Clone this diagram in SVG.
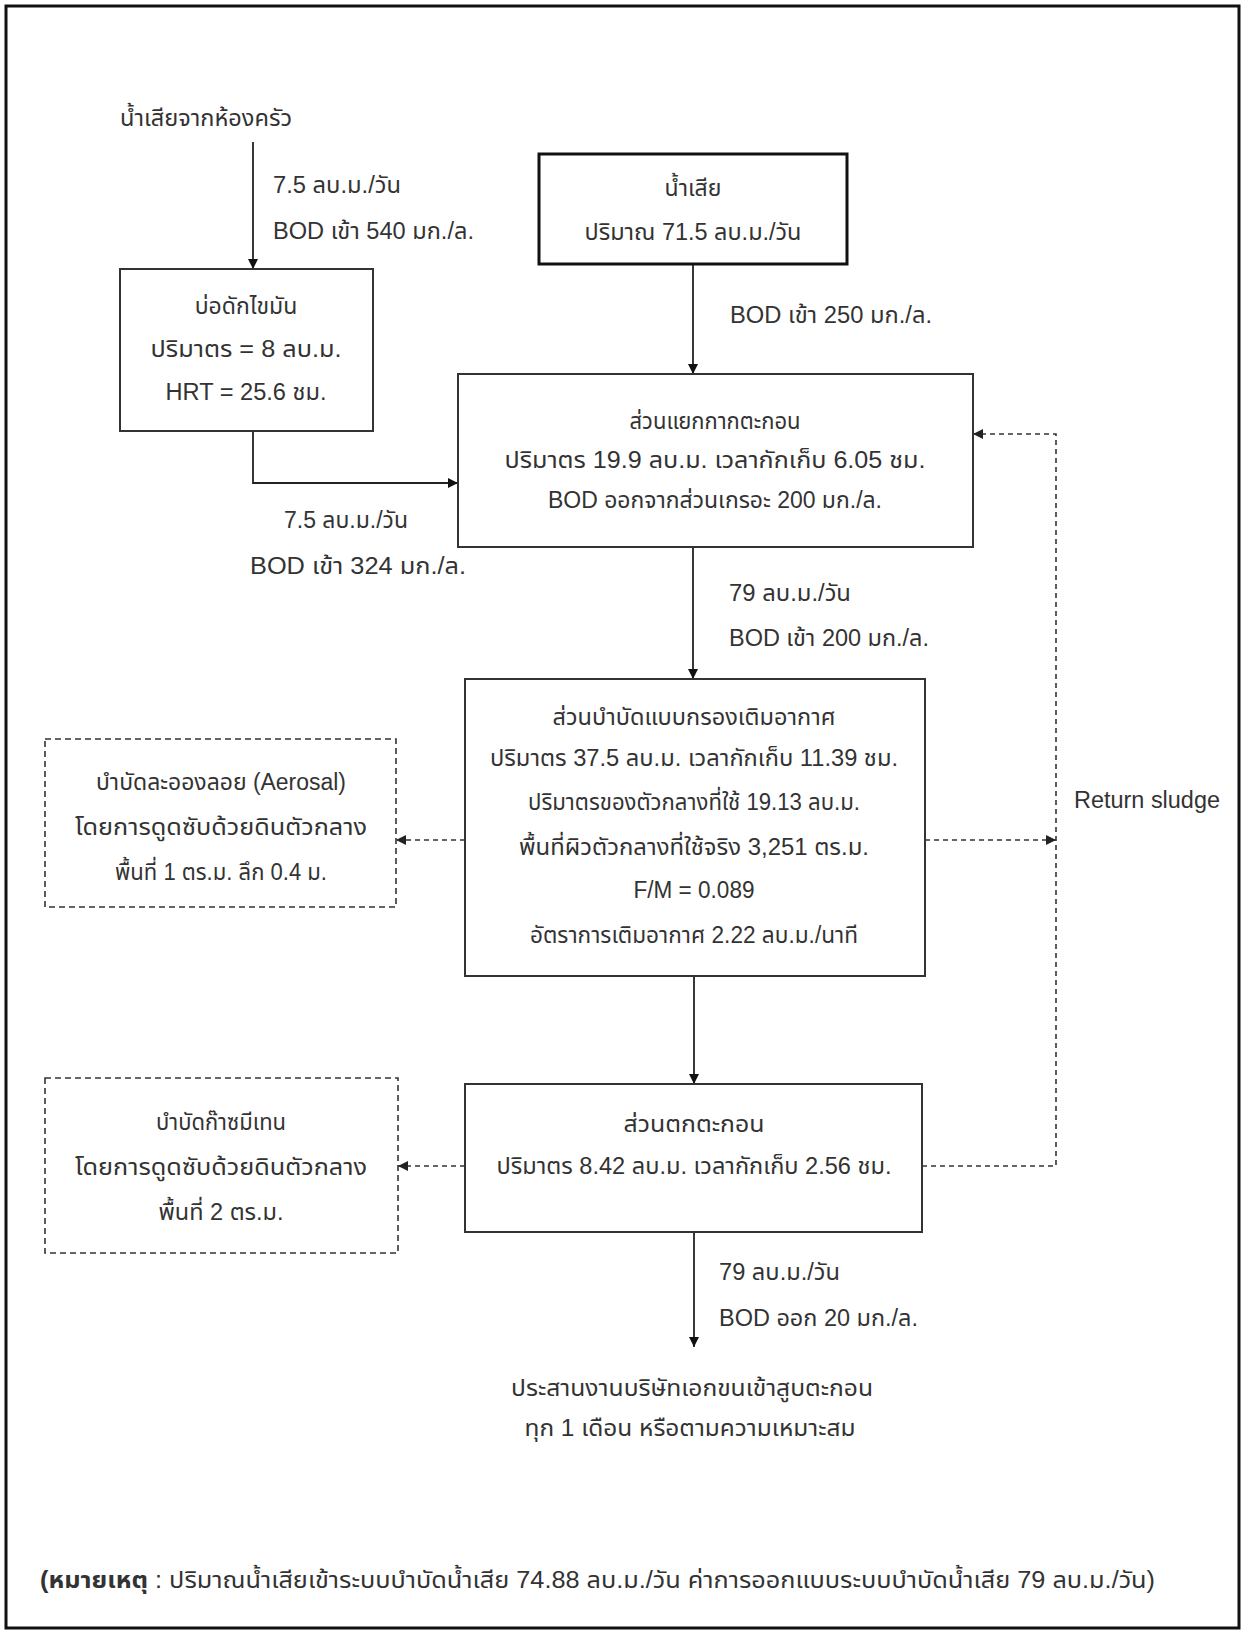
<svg xmlns="http://www.w3.org/2000/svg" width="1244" height="1633" viewBox="0 0 1244 1633">
<defs>
<marker id="ah" viewBox="0 0 10 10" refX="10" refY="5" markerWidth="10" markerHeight="10" markerUnits="userSpaceOnUse" orient="auto"><path d="M0,0 L10,5 L0,10 z" fill="#111"/></marker>
<marker id="ahd" viewBox="0 0 10 10" refX="10" refY="5" markerWidth="10" markerHeight="10" markerUnits="userSpaceOnUse" orient="auto"><path d="M0,0 L10,5 L0,10 z" fill="#222"/></marker>
</defs>
<style>
text{font-family:"Liberation Sans","Noto Sans Thai","Noto Sans",sans-serif;font-size:23px;fill:#333}
.c{text-anchor:middle}
.box{fill:#fff;stroke:#333;stroke-width:2}
.boxb{fill:#fff;stroke:#111;stroke-width:3}
.dbox{fill:#fff;stroke:#333;stroke-width:1.6;stroke-dasharray:6 4}
.ln{fill:none;stroke:#222;stroke-width:1.8}
.dl{fill:none;stroke:#333;stroke-width:1.6;stroke-dasharray:5 4}
</style>
<rect x="0" y="0" width="1244" height="1633" fill="#fff"/>
<rect x="6" y="6" width="1233" height="1622" fill="none" stroke="#111" stroke-width="3"/>

<g id="connectors">
<path class="ln" d="M253,142 V269" marker-end="url(#ah)"/>
<path class="ln" d="M693,264 V374" marker-end="url(#ah)"/>
<path class="ln" d="M253,431 V483 H458" marker-end="url(#ah)"/>
<path class="ln" d="M693,547 V679" marker-end="url(#ah)"/>
<path class="ln" d="M694,976 V1084" marker-end="url(#ah)"/>
<path class="ln" d="M694,1232 V1347" marker-end="url(#ah)"/>
<path class="dl" d="M465,840 H396" marker-end="url(#ahd)"/>
<path class="dl" d="M465,1166 H398" marker-end="url(#ahd)"/>
<path class="dl" d="M925,840 H1056" marker-end="url(#ahd)"/>
<path class="dl" d="M922,1166 H1056 V434 H973" marker-end="url(#ahd)"/>
</g>

<g id="label-kitchen"><text class="c" x="206" y="126" textLength="172" lengthAdjust="spacingAndGlyphs">น้ำเสียจากห้องครัว</text></g>
<g id="label-e1">
<text x="273" y="193" textLength="128" lengthAdjust="spacingAndGlyphs">7.5 ลบ.ม./วัน</text>
<text x="273" y="239" textLength="201" lengthAdjust="spacingAndGlyphs">BOD เข้า 540 มก./ล.</text>
</g>
<g id="node-wastewater">
<rect class="boxb" x="539" y="154" width="308" height="110"/>
<text class="c" x="693" y="196">น้ำเสีย</text>
<text class="c" x="693" y="240" textLength="217" lengthAdjust="spacingAndGlyphs">ปริมาณ 71.5 ลบ.ม./วัน</text>
</g>
<g id="label-e2"><text x="730" y="323" textLength="202" lengthAdjust="spacingAndGlyphs">BOD เข้า 250 มก./ล.</text></g>
<g id="node-grease">
<rect class="box" x="120" y="269" width="253" height="162"/>
<text class="c" x="246" y="314">บ่อดักไขมัน</text>
<text class="c" x="246" y="357" textLength="191" lengthAdjust="spacingAndGlyphs">ปริมาตร = 8 ลบ.ม.</text>
<text class="c" x="246" y="400" textLength="161" lengthAdjust="spacingAndGlyphs">HRT = 25.6 ชม.</text>
</g>
<g id="node-sep">
<rect class="box" x="458" y="374" width="515" height="173"/>
<text class="c" x="715" y="429" textLength="171" lengthAdjust="spacingAndGlyphs">ส่วนแยกกากตะกอน</text>
<text class="c" x="715" y="468" textLength="421" lengthAdjust="spacingAndGlyphs">ปริมาตร 19.9 ลบ.ม.  เวลากักเก็บ 6.05 ชม.</text>
<text class="c" x="715" y="508" textLength="334" lengthAdjust="spacingAndGlyphs">BOD ออกจากส่วนเกรอะ 200 มก./ล.</text>
</g>
<g id="label-e3">
<text x="284" y="528" textLength="124" lengthAdjust="spacingAndGlyphs">7.5 ลบ.ม./วัน</text>
<text x="250" y="574" textLength="216" lengthAdjust="spacingAndGlyphs">BOD เข้า 324 มก./ล.</text>
</g>
<g id="label-e4">
<text x="729" y="601" textLength="122" lengthAdjust="spacingAndGlyphs">79 ลบ.ม./วัน</text>
<text x="729" y="646" textLength="200" lengthAdjust="spacingAndGlyphs">BOD เข้า 200 มก./ล.</text>
</g>
<g id="node-aer">
<rect class="box" x="465" y="679" width="460" height="297"/>
<text class="c" x="694" y="725" textLength="283" lengthAdjust="spacingAndGlyphs">ส่วนบำบัดแบบกรองเติมอากาศ</text>
<text class="c" x="694" y="766" textLength="408" lengthAdjust="spacingAndGlyphs">ปริมาตร 37.5 ลบ.ม. เวลากักเก็บ 11.39 ชม.</text>
<text class="c" x="694" y="810" textLength="332" lengthAdjust="spacingAndGlyphs">ปริมาตรของตัวกลางที่ใช้ 19.13 ลบ.ม.</text>
<text class="c" x="694" y="855" textLength="350" lengthAdjust="spacingAndGlyphs">พื้นที่ผิวตัวกลางที่ใช้จริง 3,251 ตร.ม.</text>
<text class="c" x="694" y="898" textLength="121" lengthAdjust="spacingAndGlyphs">F/M = 0.089</text>
<text class="c" x="694" y="943" textLength="328" lengthAdjust="spacingAndGlyphs">อัตราการเติมอากาศ 2.22 ลบ.ม./นาที</text>
</g>
<g id="node-aerosol">
<rect class="dbox" x="45" y="739" width="351" height="168"/>
<text class="c" x="221" y="790" textLength="250" lengthAdjust="spacingAndGlyphs">บำบัดละอองลอย (Aerosal)</text>
<text class="c" x="221" y="835" textLength="292" lengthAdjust="spacingAndGlyphs">โดยการดูดซับด้วยดินตัวกลาง</text>
<text class="c" x="221" y="880" textLength="212" lengthAdjust="spacingAndGlyphs">พื้นที่ 1 ตร.ม. ลึก 0.4 ม.</text>
</g>
<g id="label-return"><text x="1074" y="808" textLength="146" lengthAdjust="spacingAndGlyphs">Return sludge</text></g>
<g id="node-settle">
<rect class="box" x="465" y="1084" width="457" height="148"/>
<text class="c" x="694" y="1132" textLength="141" lengthAdjust="spacingAndGlyphs">ส่วนตกตะกอน</text>
<text class="c" x="694" y="1174" textLength="395" lengthAdjust="spacingAndGlyphs">ปริมาตร 8.42 ลบ.ม. เวลากักเก็บ 2.56 ชม.</text>
</g>
<g id="node-methane">
<rect class="dbox" x="45" y="1078" width="353" height="175"/>
<text class="c" x="221" y="1130" textLength="130" lengthAdjust="spacingAndGlyphs">บำบัดก๊าซมีเทน</text>
<text class="c" x="221" y="1175" textLength="292" lengthAdjust="spacingAndGlyphs">โดยการดูดซับด้วยดินตัวกลาง</text>
<text class="c" x="221" y="1220" textLength="125" lengthAdjust="spacingAndGlyphs">พื้นที่ 2 ตร.ม.</text>
</g>
<g id="label-e5">
<text x="719" y="1280" textLength="121" lengthAdjust="spacingAndGlyphs">79 ลบ.ม./วัน</text>
<text x="719" y="1326" textLength="199" lengthAdjust="spacingAndGlyphs">BOD ออก 20 มก./ล.</text>
</g>
<g id="node-out">
<text class="c" x="692" y="1396" textLength="362" lengthAdjust="spacingAndGlyphs">ประสานงานบริษัทเอกขนเข้าสูบตะกอน</text>
<text class="c" x="690" y="1436" textLength="331" lengthAdjust="spacingAndGlyphs">ทุก 1 เดือน หรือตามความเหมาะสม</text>
</g>
<g id="note"><text x="40" y="1588" textLength="1115" lengthAdjust="spacingAndGlyphs"><tspan font-weight="bold">(หมายเหตุ</tspan> : ปริมาณน้ำเสียเข้าระบบบำบัดน้ำเสีย 74.88 ลบ.ม./วัน ค่าการออกแบบระบบบำบัดน้ำเสีย 79 ลบ.ม./วัน)</text></g>
</svg>
